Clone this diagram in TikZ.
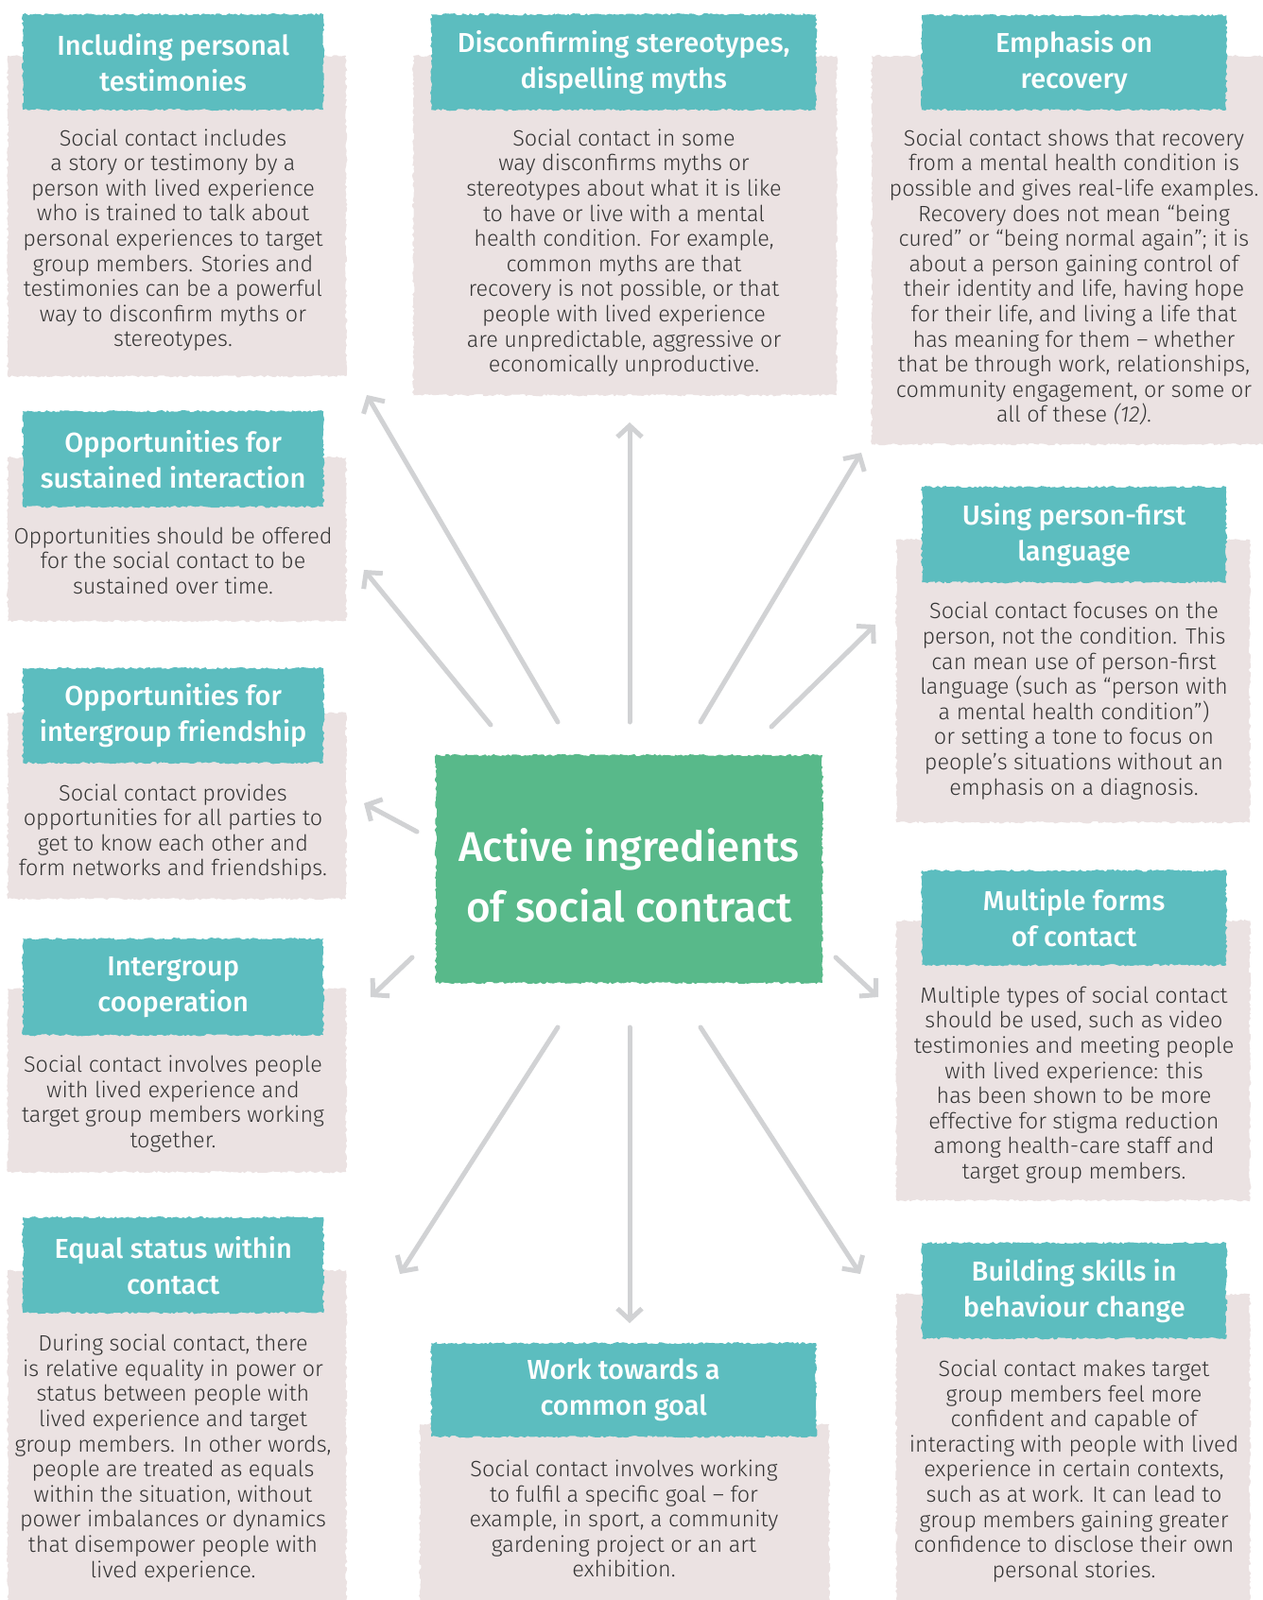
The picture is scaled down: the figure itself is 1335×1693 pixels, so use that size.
\documentclass[tikz,border=0pt]{standalone}
\usepackage{fontspec}
\setmainfont{Fira Sans Light}[BoldFont={Fira Sans Medium}, ItalicFont={Fira Sans Light Italic}]
\usetikzlibrary{arrows.meta,decorations.pathmorphing}
\definecolor{tealhead}{RGB}{92,189,191}
\definecolor{pinkback}{RGB}{235,226,226}
\definecolor{greenmid}{RGB}{88,185,138}
\definecolor{arrowgrey}{RGB}{209,210,212}
\definecolor{textgrey}{RGB}{52,52,52}

\begin{document}
\begin{tikzpicture}[x=1pt,y=-1pt,
  rough/.style={decorate,decoration={random steps,segment length=2.5pt,amplitude=1.2pt}},
  back/.style={rough,fill=pinkback,anchor=north west,inner sep=0pt},
  head/.style={rough,fill=tealhead,anchor=north west,inner sep=0pt,text=white,align=center,
    font=\fontsize{29}{38}\selectfont\bfseries},
  body/.style={text=textgrey,align=center,font=\fontsize{23.4}{26.6}\selectfont},
  arr/.style={draw=arrowgrey,line width=5pt,line cap=round,
    -{Straight Barb[length=12pt,width=26pt]}}]
\useasboundingbox (0,0) rectangle (1335,1693);

% left column
\node[back,minimum width=358,minimum height=339] (testim-b) at (8,59) {};
\node[head,minimum width=318,minimum height=101] (testim-h) at (24,15) {Including personal\\testimonies};
\node[body] (testim) at (183,254) {Social contact includes\\a story or testimony by a\\person with lived experience\\who is trained to talk about\\personal experiences to target\\group members. Stories and\\testimonies can be a powerful\\way to disconfirm myths or\\stereotypes.};

\node[back,minimum width=358,minimum height=173] (sustain-b) at (8,484) {};
\node[head,minimum width=318,minimum height=101] (sustain-h) at (24,435) {Opportunities for\\sustained interaction};
\node[body] (sustain) at (183,593) {Opportunities should be offered\\for the social contact to be\\sustained over time.};

\node[back,minimum width=358,minimum height=197] (friend-b) at (8,754) {};
\node[head,minimum width=318,minimum height=100] (friend-h) at (24,707) {Opportunities for\\intergroup friendship};
\node[body] (friend) at (183,880.5) {Social contact provides\\opportunities for all parties to\\get to know each other and\\form networks and friendships.};

\node[back,minimum width=358,minimum height=194] (coop-b) at (8,1046) {};
\node[head,minimum width=318,minimum height=102] (coop-h) at (24,993) {Intergroup\\cooperation};
\node[body] (coop) at (183,1168) {Social contact involves people\\with lived experience and\\target group members working\\together.};

\node[back,minimum width=358,minimum height=360] (equal-b) at (8,1344) {};
\node[head,minimum width=318,minimum height=101] (equal-h) at (24,1288) {Equal status within\\contact};
\node[body] (equal) at (183,1543) {During social contact, there\\is relative equality in power or\\status between people with\\lived experience and target\\group members. In other words,\\people are treated as equals\\within the situation, without\\power imbalances or dynamics\\that disempower people with\\lived experience.};

% middle column
\node[back,minimum width=448,minimum height=359] (myths-b) at (437,59) {};
\node[head,minimum width=407,minimum height=101] (myths-h) at (456,15) {Disconfirming stereotypes,\\dispelling myths};
\node[body] (myths) at (660,267.5) {Social contact in some\\way disconfirms myths or\\stereotypes about what it is like\\to have or live with a mental\\health condition. For example,\\common myths are that\\recovery is not possible, or that\\people with lived experience\\are unpredictable, aggressive or\\economically unproductive.};

\node[rough,fill=greenmid,minimum width=409,minimum height=241,inner sep=0pt] (ctr) at (665.5,919.5) {};
\node[text=white,align=center,font=\fontsize{44}{64}\selectfont\bfseries] (ctr-t) at (665.5,926) {Active ingredients\\of social contract};

\node[back,minimum width=433,minimum height=200] (goal-b) at (444,1507) {};
\node[head,minimum width=407,minimum height=99] (goal-h) at (456,1421) {Work towards a\\common goal};
\node[body] (goal) at (660,1607) {Social contact involves working\\to fulfil a specific goal – for\\example, in sport, a community\\gardening project or an art\\exhibition.};

% right column
\node[back,minimum width=420,minimum height=411] (recov-b) at (922,59) {};
\node[head,minimum width=322,minimum height=100] (recov-h) at (975,16) {Emphasis on\\recovery};
\node[body] (recov) at (1136,293.5) {Social contact shows that recovery\\from a mental health condition is\\possible and gives real-life examples.\\Recovery does not mean “being\\cured” or “being normal again”; it is\\about a person gaining control of\\their identity and life, having hope\\for their life, and living a life that\\has meaning for them – whether\\that be through work, relationships,\\community engagement, or some or\\all of these \textit{(12)}.};

\node[back,minimum width=374,minimum height=299] (lang-b) at (948,571) {};
\node[head,minimum width=322,minimum height=101] (lang-h) at (975,515) {Using person-first\\language};
\node[body] (lang) at (1136,741.5) {Social contact focuses on the\\person, not the condition. This\\can mean use of person-first\\language (such as “person with\\a mental health condition”)\\or setting a tone to focus on\\people’s situations without an\\emphasis on a diagnosis.};

\node[back,minimum width=374,minimum height=296] (forms-b) at (948,974) {};
\node[head,minimum width=322,minimum height=100] (forms-h) at (975,921) {Multiple forms\\of contact};
\node[body] (forms) at (1136,1148) {Multiple types of social contact\\should be used, such as video\\testimonies and meeting people\\with lived experience: this\\has been shown to be more\\effective for stigma reduction\\among health-care staff and\\target group members.};

\node[back,minimum width=374,minimum height=335] (skills-b) at (948,1369) {};
\node[head,minimum width=322,minimum height=101] (skills-h) at (975,1315) {Building skills in\\behaviour change};
\node[body] (skills) at (1136,1556.5) {Social contact makes target\\group members feel more\\confident and capable of\\interacting with people with lived\\experience in certain contexts,\\such as at work. It can lead to\\group members gaining greater\\confidence to disclose their own\\personal stories.};

% arrows
\coordinate (s-testim) at (590,764);  \coordinate (e-testim) at (388,418);
\coordinate (s-sustain) at (519,767); \coordinate (e-sustain) at (385,603);
\coordinate (s-myths) at (666,764);   \coordinate (e-myths) at (666,447);
\coordinate (s-recov) at (741,764);   \coordinate (e-recov) at (911,479);
\coordinate (s-lang) at (816,769);    \coordinate (e-lang) at (926,661);
\coordinate (s-friend) at (441,880);  \coordinate (e-friend) at (385,850);
\coordinate (s-coop) at (436,1013);   \coordinate (e-coop) at (392,1055);
\coordinate (s-forms) at (884,1013);  \coordinate (e-forms) at (929,1055);
\coordinate (s-equal) at (590,1087);  \coordinate (e-equal) at (423,1348);
\coordinate (s-goal) at (666,1087);   \coordinate (e-goal) at (666,1400);
\coordinate (s-skills) at (741,1087); \coordinate (e-skills) at (910,1348);

\draw[arr] (s-testim) -- (e-testim);
\draw[arr] (s-sustain) -- (e-sustain);
\draw[arr] (s-myths) -- (e-myths);
\draw[arr] (s-recov) -- (e-recov);
\draw[arr] (s-lang) -- (e-lang);
\draw[arr] (s-friend) -- (e-friend);
\draw[arr] (s-coop) -- (e-coop);
\draw[arr] (s-forms) -- (e-forms);
\draw[arr] (s-equal) -- (e-equal);
\draw[arr] (s-goal) -- (e-goal);
\draw[arr] (s-skills) -- (e-skills);

\end{tikzpicture}
\end{document}
